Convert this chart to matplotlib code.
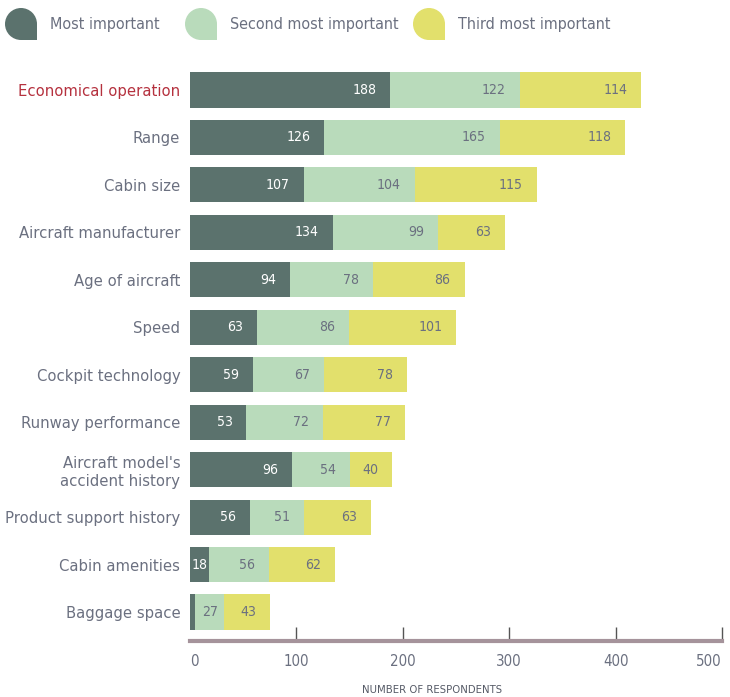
import matplotlib
matplotlib.use("Agg")
import matplotlib.pyplot as plt
from matplotlib import font_manager as fm
from matplotlib.patches import Circle, Rectangle
import numpy as np

# Data
categories = ["Economical operation", "Range", "Cabin size", "Aircraft manufacturer",
              "Age of aircraft", "Speed", "Cockpit technology", "Runway performance",
              "Aircraft model's\naccident history", "Product support history",
              "Cabin amenities", "Baggage space"]
most_important = [188, 126, 107, 134, 94, 63, 59, 53, 96, 56, 18, 5]
second_important = [122, 165, 104, 99, 78, 86, 67, 72, 54, 51, 56, 27]
third_important = [114, 118, 115, 63, 86, 101, 78, 77, 40, 63, 62, 43]
series_names = ["Most important", "Second most important", "Third most important"]
ticks = [0, 100, 200, 300, 400, 500]

colors = ["#5b726d", "#b9dbbb", "#e2e06c"]
text_grey = "#6b7080"
highlight = "#b5313e"

# pick a narrow sans font if one is installed
def find_narrow():
    best, best_score = None, -1
    for f in fm.fontManager.ttflist:
        name = f.name + " " + f.fname
        if any(k in name for k in ("Mono", "Serif", "Code", "Math", "Italic", "Bold",
                                   "Light", "Thin", "Medium", "Black", "CJK")):
            continue
        if f.style != "normal" or f.weight not in (400, "normal", "regular"):
            continue
        fname = f.fname.replace("SemiCondensed", "Semi").replace("ExtraCondensed", "Extra")
        score = 0
        if "Narrow" in name or "Condensed" in fname or f.stretch == "condensed":
            score = 3
        elif "Semi" in fname or f.stretch == "semi-condensed":
            score = 2
        elif "Extra" in fname or f.stretch == "extra-condensed":
            score = 1
        if score and "Sans" in name:
            score += 0.5
        if score > best_score and score > 0:
            best, best_score = f.fname, score
    return best

narrow_file = find_narrow()

W, H = 730, 697
fig = plt.figure(figsize=(W / 100, H / 100), dpi=100)
renderer = fig.canvas.get_renderer()

def font(size):
    if narrow_file:
        return fm.FontProperties(fname=narrow_file, size=size)
    return fm.FontProperties(family="DejaVu Sans", size=size)

def fit(sample, width_px, max_size):
    w, _, _ = renderer.get_text_width_height_descent(sample, font(10), ismath=False)
    return min(max_size, 10 * width_px / w)

cat_size = fit("Economical operation", 161, 13.5)
val_size = fit("188", 24, 13)
tick_size = fit("500", 26, 13)
leg_size = fit("Most important", 110, 13.5)
xl_size = fit("NUMBER OF RESPONDENTS", 140, 9.5)

ax = fig.add_axes([190 / W, 1 - 641 / H, (722 - 190) / W, (641 - 61) / H])

y = np.arange(len(categories))
series = [most_important, second_important, third_important]
left = np.zeros(len(categories))
px_per_unit = (722 - 190) / 500
for i, vals in enumerate(series):
    vals = np.array(vals)
    ax.barh(y, vals, left=left, height=0.74, color=colors[i], linewidth=0)
    for yi, (l, v) in enumerate(zip(left, vals)):
        if v < 10:
            continue
        tc = "white" if i == 0 else text_grey
        if v * px_per_unit < 40:
            ax.text(l + v / 2, yi, str(v), ha="center", va="center",
                    color=tc, fontproperties=font(val_size))
        else:
            ax.annotate(str(v), xy=(l + v, yi), xytext=(-10, 0),
                        textcoords="offset points", ha="right", va="center",
                        color=tc, fontproperties=font(val_size))
    left = left + vals

ax.set_xlim(0, 500)
ax.set_ylim(len(categories) - 1 + 0.61, -0.61)
ax.set_yticks(y)
ax.set_yticklabels(categories, color=text_grey)
for lab in ax.get_yticklabels():
    lab.set_fontproperties(font(cat_size))
ax.get_yticklabels()[0].set_color(highlight)
ax.tick_params(axis="y", length=0, pad=7)

ax.set_xticks(ticks)
ax.set_xticklabels([str(t) for t in ticks], color=text_grey)
for lab in ax.get_xticklabels():
    lab.set_fontproperties(font(tick_size))
ax.get_xticklabels()[-1].set_horizontalalignment("right")
ax.get_xticklabels()[0].set_horizontalalignment("left")
ax.tick_params(axis="x", direction="in", length=10, width=1, color="#555555", pad=9)
ax.xaxis.get_major_ticks()[0].tick1line.set_visible(False)

for s in ["top", "right", "left"]:
    ax.spines[s].set_visible(False)
ax.spines["bottom"].set_color("#a5939b")
ax.spines["bottom"].set_linewidth(3)

fig.text(432 / W, 1 - 690 / H, "NUMBER OF RESPONDENTS", ha="center", va="center",
         color="#555a66", fontproperties=font(xl_size))

# Legend drawn by hand with teardrop-shaped markers
lax = fig.add_axes([0, 0, 1, 1])
lax.set_xlim(0, W)
lax.set_ylim(H, 0)
lax.axis("off")
icon_x = [5, 185, 413]
for i, name in enumerate(series_names):
    cx = icon_x[i] + 16
    cy = 24
    lax.add_patch(Circle((cx, cy), 16, color=colors[i], lw=0))
    lax.add_patch(Rectangle((cx, cy), 16, 16, color=colors[i], lw=0))
    lax.text(icon_x[i] + 45, cy, name, ha="left", va="center",
             color=text_grey, fontproperties=font(leg_size))

fig.savefig("out.png", dpi=100)
